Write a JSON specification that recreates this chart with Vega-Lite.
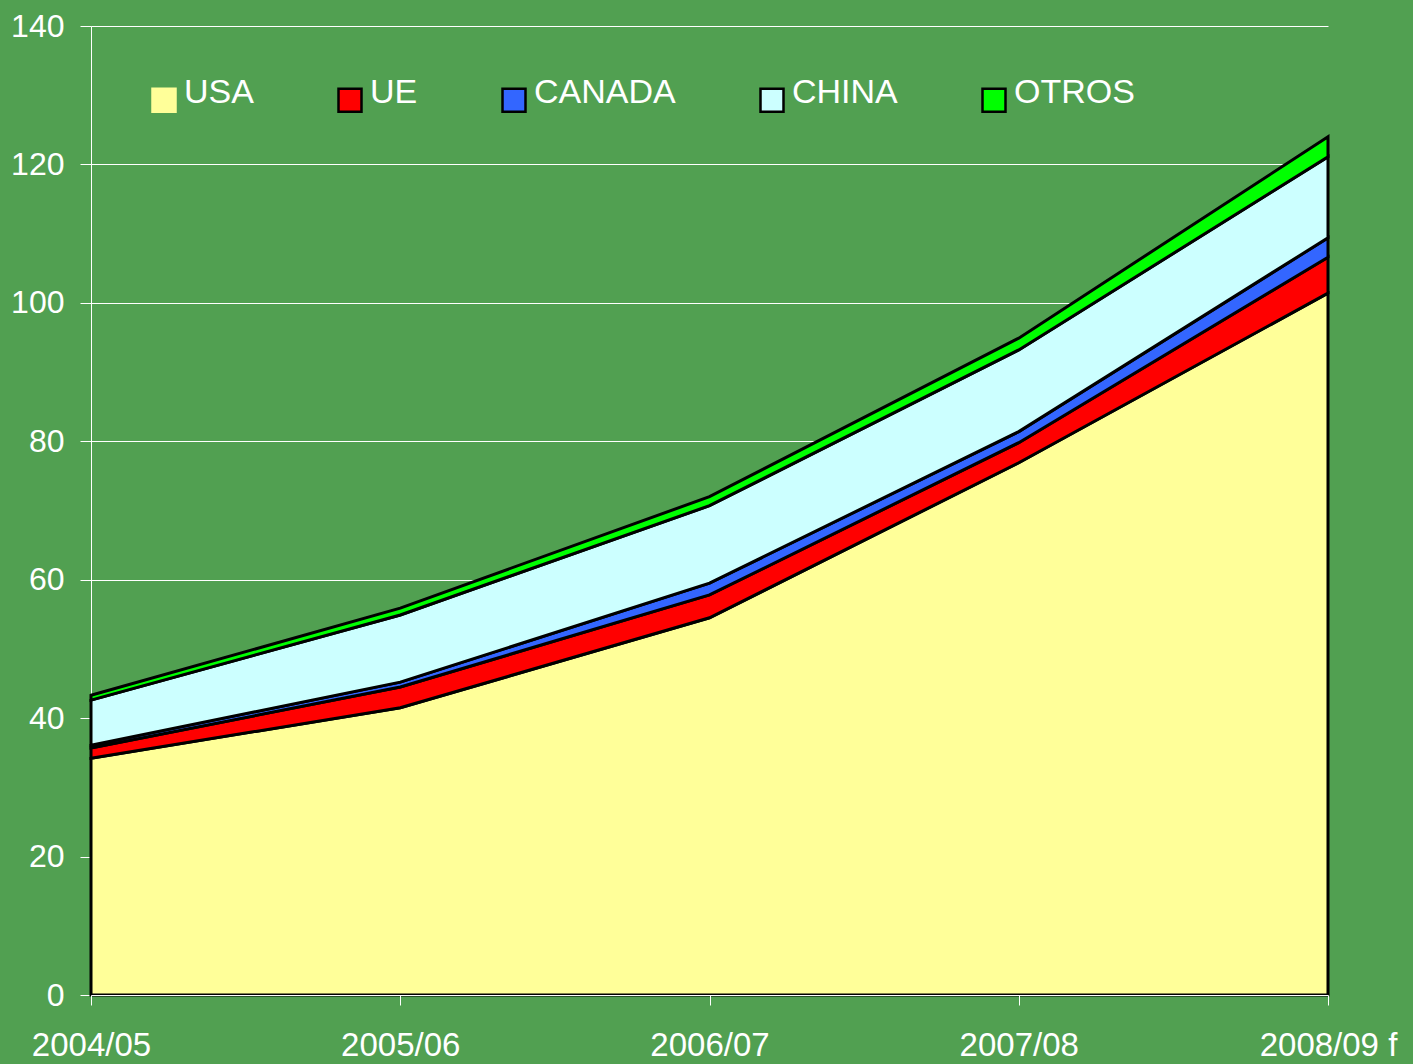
{
  "$schema": "https://vega.github.io/schema/vega-lite/v6.json",
  "width": 1237,
  "height": 969,
  "autosize": "none",
  "padding": {"left": 91, "top": 26, "right": 85, "bottom": 69},
  "background": "#51a051",
  "config": {"view": {"stroke": null}, "font": "Liberation Sans"},
  "data": {
    "values": [
      {"season": "2004/05", "region": "USA", "value": 34.2},
      {"season": "2004/05", "region": "UE", "value": 1.5},
      {"season": "2004/05", "region": "CANADA", "value": 0.4},
      {"season": "2004/05", "region": "CHINA", "value": 6.5},
      {"season": "2004/05", "region": "OTROS", "value": 0.7},
      {"season": "2005/06", "region": "USA", "value": 41.5},
      {"season": "2005/06", "region": "UE", "value": 3.0},
      {"season": "2005/06", "region": "CANADA", "value": 0.7},
      {"season": "2005/06", "region": "CHINA", "value": 9.7},
      {"season": "2005/06", "region": "OTROS", "value": 1.0},
      {"season": "2006/07", "region": "USA", "value": 54.5},
      {"season": "2006/07", "region": "UE", "value": 3.3},
      {"season": "2006/07", "region": "CANADA", "value": 1.7},
      {"season": "2006/07", "region": "CHINA", "value": 11.2},
      {"season": "2006/07", "region": "OTROS", "value": 1.3},
      {"season": "2007/08", "region": "USA", "value": 76.9},
      {"season": "2007/08", "region": "UE", "value": 2.9},
      {"season": "2007/08", "region": "CANADA", "value": 1.6},
      {"season": "2007/08", "region": "CHINA", "value": 11.8},
      {"season": "2007/08", "region": "OTROS", "value": 1.7},
      {"season": "2008/09 f", "region": "USA", "value": 101.4},
      {"season": "2008/09 f", "region": "UE", "value": 5.2},
      {"season": "2008/09 f", "region": "CANADA", "value": 2.8},
      {"season": "2008/09 f", "region": "CHINA", "value": 11.7},
      {"season": "2008/09 f", "region": "OTROS", "value": 2.9}
    ]
  },
  "transform": [
    {"calculate": "indexof(['USA','UE','CANADA','CHINA','OTROS'], datum.region)", "as": "stackOrder"}
  ],
  "mark": {"type": "area", "stroke": "black", "strokeWidth": 3, "strokeJoin": "miter", "fillOpacity": 1, "opacity": 1},
  "encoding": {
    "x": {
      "field": "season",
      "type": "ordinal",
      "sort": null,
      "scale": {"type": "point", "padding": 0},
      "axis": {
        "title": null,
        "labelAngle": 0,
        "labelColor": "white",
        "labelFontSize": 33,
        "labelPadding": 24,
        "tickSize": 10,
        "tickColor": "white",
        "domainColor": "white",
        "domainWidth": 1,
        "grid": false,
        "zindex": 1
      }
    },
    "y": {
      "field": "value",
      "type": "quantitative",
      "stack": "zero",
      "scale": {"domain": [0, 140], "nice": false},
      "axis": {
        "title": null,
        "values": [0, 20, 40, 60, 80, 100, 120, 140],
        "labelColor": "white",
        "labelFontSize": 32,
        "labelPadding": 16,
        "tickSize": 11,
        "tickColor": "white",
        "domainColor": "white",
        "grid": true,
        "gridColor": "white",
        "gridOpacity": 1,
        "gridWidth": 1
      }
    },
    "order": {"field": "stackOrder", "type": "quantitative", "sort": "ascending"},
    "color": {
      "field": "region",
      "type": "nominal",
      "sort": ["USA", "UE", "CANADA", "CHINA", "OTROS"],
      "scale": {
        "domain": ["USA", "UE", "CANADA", "CHINA", "OTROS"],
        "range": ["#ffff99", "#ff0000", "#3366ff", "#ccffff", "#00ff00"]
      },
      "legend": {
        "title": null,
        "orient": "none",
        "legendX": 56,
        "legendY": 57,
        "direction": "horizontal",
        "columns": 5,
        "columnPadding": 79,
        "symbolType": "square",
        "symbolSize": 529,
        "symbolStrokeColor": "black",
        "symbolStrokeWidth": 2.5,
        "symbolOpacity": 1,
        "labelFontSize": 34,
        "labelColor": "white",
        "labelOffset": 3,
        "encode": {
          "symbols": {"update": {"stroke": {"signal": "datum.value === 'USA' ? '#ffff99' : 'black'"}}},
          "labels": {"update": {"dy": {"value": -7}}}
        }
      }
    }
  }
}
